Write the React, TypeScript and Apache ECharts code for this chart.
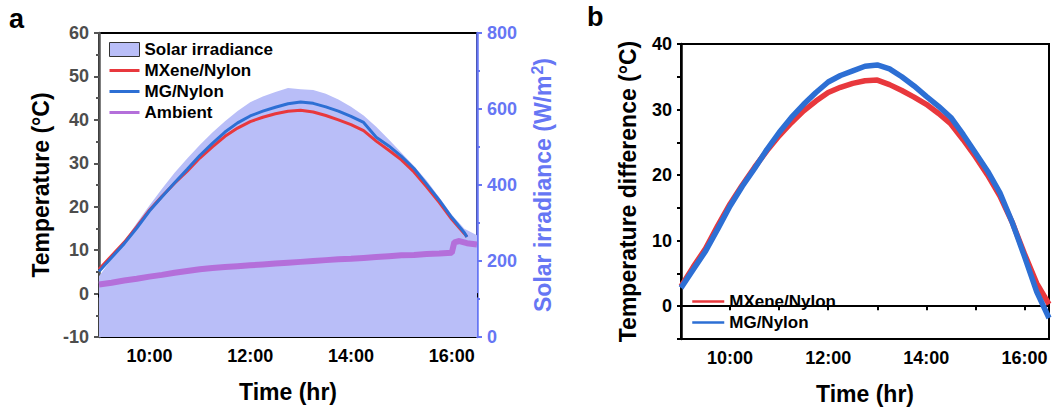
import React, { useEffect, useRef } from "react";
import * as echarts from "echarts";

// ---------- data ----------
const TIME_15 = [9, 9.25, 9.5, 9.75, 10, 10.25, 10.5, 10.75, 11, 11.25, 11.5, 11.75, 12, 12.25, 12.5, 12.75, 13, 13.25, 13.5, 13.75, 14, 14.25, 14.5, 14.75, 15, 15.25, 15.5, 15.75, 16, 16.25, 16.5];

// Solar irradiance (W/m2), panel a
const IRRADIANCE = [160, 205, 252, 300, 346, 390, 432, 470, 505, 538, 568, 595, 618, 633, 645, 655, 652, 650, 640, 625, 606, 583, 553, 520, 485, 450, 412, 368, 322, 285, 268];

// Surface temperatures (°C), panel a
const TIME_SURF = [9, 9.25, 9.5, 9.75, 10, 10.25, 10.5, 10.75, 11, 11.25, 11.5, 11.75, 12, 12.25, 12.5, 12.75, 13, 13.25, 13.5, 13.75, 14, 14.25, 14.5, 14.75, 15, 15.25, 15.5, 15.75, 16, 16.25, 16.3];
const MXENE_TEMP = [5.6, 8.7, 11.8, 15.4, 19.2, 22.4, 25.4, 28.2, 31.2, 33.8, 36.2, 38.1, 39.6, 40.6, 41.4, 42.0, 42.2, 41.8, 41.0, 40.0, 38.9, 37.5, 35.1, 33.0, 30.8, 28.0, 24.6, 21.0, 17.1, 13.8, 13.1];
const MG_TEMP = [5.1, 8.3, 11.5, 15.1, 19.0, 22.3, 25.5, 28.6, 31.8, 34.6, 37.2, 39.3, 40.9, 42.0, 42.9, 43.7, 44.1, 43.8, 43.0, 42.0, 40.8, 39.4, 36.0, 34.0, 31.6, 28.8, 25.2, 21.5, 17.5, 14.0, 13.0];

// Ambient temperature (°C), panel a
const TIME_AMB = [9, 9.25, 9.5, 9.75, 10, 10.25, 10.5, 10.75, 11, 11.25, 11.5, 11.75, 12, 12.25, 12.5, 12.75, 13, 13.25, 13.5, 13.75, 14, 14.25, 14.5, 14.75, 15, 15.25, 15.5, 15.75, 16, 16.05, 16.15, 16.3, 16.5];
const AMBIENT = [2.1, 2.5, 3.0, 3.4, 3.9, 4.3, 4.8, 5.2, 5.6, 5.9, 6.1, 6.3, 6.5, 6.7, 6.9, 7.1, 7.3, 7.5, 7.7, 7.9, 8.0, 8.2, 8.4, 8.6, 8.8, 8.9, 9.1, 9.2, 9.4, 11.8, 12.1, 11.6, 11.3];

// Temperature difference (°C), panel b
const MXENE_DIFF = [3.0, 6.0, 8.8, 12.3, 15.6, 18.5, 21.2, 23.7, 26.0, 28.0, 29.8, 31.3, 32.6, 33.4, 34.0, 34.4, 34.5, 33.8, 32.9, 31.9, 30.8, 29.4, 27.8, 25.4, 22.8, 20.0, 16.8, 12.8, 8.0, 3.5, 0.3];
const MG_DIFF = [2.8, 5.6, 8.4, 11.8, 15.3, 18.3, 21.0, 23.9, 26.5, 28.8, 30.8, 32.6, 34.2, 35.2, 35.9, 36.6, 36.8, 36.2, 35.0, 33.6, 32.0, 30.5, 28.8, 26.2, 23.4, 20.6, 17.3, 12.8, 7.6, 2.2, -1.8];

const HOUR_LABELS = ["10:00", "12:00", "14:00", "16:00"];

// ---------- styles ----------
const FONT = "'Liberation Sans', Arial, Helvetica, sans-serif";
const RED = "#E8383D";
const BLUE = "#2D6FD4";
const PURPLE = "#B46FDA";
const FILL = "#B9BEF8";
const AXIS_BLUE = "#6676F4";

const zip = (xs: number[], ys: number[]) => ys.map((y, i) => [xs[i], y]);

const hourFmt = (v: number) => {
  const s = v + ":00";
  return HOUR_LABELS.indexOf(s) >= 0 ? s : "";
};

const lineItem = (name: string, width: number) => ({
  name,
  itemStyle: { opacity: 0 },
  lineStyle: { width, opacity: 1 },
});

export default function App() {
  const ref = useRef<HTMLDivElement>(null);

  useEffect(() => {
    if (!ref.current) return;
    const chart = echarts.init(ref.current, undefined, { renderer: "svg" });

    const xAxisBase = (gridIndex: number) => ({
      type: "value",
      gridIndex,
      min: 9,
      max: 16.5,
      interval: 1,
      name: "Time (hr)",
      nameLocation: "middle",
      nameGap: 43,
      nameTextStyle: { fontSize: 23, fontWeight: "bold", color: "#000", fontFamily: FONT },
      axisLine: { show: true, lineStyle: { color: "#000", width: 2 } },
      axisTick: { show: true, inside: false, length: 4, lineStyle: { color: "#000", width: 2 } },
      axisLabel: {
        formatter: hourFmt,
        fontSize: 18,
        fontWeight: "bold",
        color: "#000",
        fontFamily: FONT,
        margin: 10,
        showMinLabel: true,
        showMaxLabel: true,
      },
      splitLine: { show: false },
    });

    const legendText = { fontSize: 17, fontWeight: "bold", color: "#000", fontFamily: FONT };

    const option: any = {
      animation: false,
      backgroundColor: "#fff",
      grid: [
        { left: 99, top: 33, width: 378, height: 304, show: true, borderColor: "#000", borderWidth: 2, backgroundColor: "transparent" },
        { left: 681, top: 44, width: 368, height: 295, show: true, borderColor: "#000", borderWidth: 2, backgroundColor: "transparent" },
      ],
      xAxis: [xAxisBase(0), xAxisBase(1)],
      yAxis: [
        {
          type: "value",
          gridIndex: 0,
          position: "left",
          min: -10,
          max: 60,
          interval: 10,
          name: "Temperature (°C)",
          nameLocation: "middle",
          nameRotate: 90,
          nameGap: 47,
          nameTextStyle: { fontSize: 23, fontWeight: "bold", color: "#000", fontFamily: FONT },
          axisLine: { show: true, lineStyle: { color: "#555", width: 2.5 } },
          axisTick: { show: true, inside: false, length: 5, lineStyle: { color: "#555", width: 2 } },
          minorTick: { show: true, splitNumber: 2, length: 3, lineStyle: { color: "#555", width: 2 } },
          axisLabel: { fontSize: 18, fontWeight: "bold", color: "#4d4d4d", fontFamily: FONT, margin: 10 },
          splitLine: { show: false },
        },
        {
          type: "value",
          gridIndex: 0,
          position: "right",
          min: 0,
          max: 800,
          interval: 200,
          name: "Solar irradiance (W/m{sup|2})",
          nameLocation: "middle",
          nameRotate: 90,
          nameGap: 52,
          nameTextStyle: {
            fontSize: 23,
            fontWeight: "bold",
            color: AXIS_BLUE,
            fontFamily: FONT,
            lineHeight: 28,
            rich: {
              sup: { fontSize: 16, fontWeight: "bold", color: AXIS_BLUE, fontFamily: FONT, verticalAlign: "top", lineHeight: 28, padding: [0, 0, 8, 1] },
            },
          },
          axisLine: { show: true, lineStyle: { color: AXIS_BLUE, width: 2.5 } },
          axisTick: { show: true, inside: false, length: 5, lineStyle: { color: AXIS_BLUE, width: 2 } },
          minorTick: { show: true, splitNumber: 2, length: 3, lineStyle: { color: AXIS_BLUE, width: 2 } },
          axisLabel: { fontSize: 18, fontWeight: "bold", color: AXIS_BLUE, fontFamily: FONT, margin: 10 },
          splitLine: { show: false },
        },
        {
          type: "value",
          gridIndex: 1,
          position: "left",
          min: -5,
          max: 40,
          interval: 5,
          name: "Temperature difference (°C)",
          nameLocation: "middle",
          nameRotate: 90,
          nameGap: 42,
          nameTextStyle: { fontSize: 23, fontWeight: "bold", color: "#000", fontFamily: FONT },
          axisLine: { show: true, lineStyle: { color: "#000", width: 2.5 } },
          axisTick: { show: true, inside: false, length: 4, lineStyle: { color: "#000", width: 2 } },
          axisLabel: {
            formatter: (v: number) => (v % 10 === 0 ? String(v) : ""),
            fontSize: 18,
            fontWeight: "bold",
            color: "#000",
            fontFamily: FONT,
            margin: 9,
          },
          splitLine: { show: false },
        },
      ],
      legend: [
        {
          orient: "vertical",
          left: 108,
          top: 41,
          padding: 0,
          itemWidth: 30,
          itemHeight: 14,
          itemGap: 4,
          textStyle: legendText,
          data: [
            { name: "Solar irradiance", icon: "rect", itemStyle: { color: FILL, borderColor: "#333", borderWidth: 1, opacity: 1 } },
            lineItem("MXene/Nylon", 3),
            lineItem("MG/Nylon", 3),
            lineItem("Ambient", 3),
          ],
        },
        {
          orient: "vertical",
          left: 691,
          top: 293,
          padding: 0,
          itemWidth: 32,
          itemHeight: 14,
          itemGap: 4,
          textStyle: legendText,
          data: [lineItem("MXene/Nylon", 2.5), lineItem("MG/Nylon", 2.5)],
        },
      ],
      graphic: [
        { type: "text", left: 9, top: 5, style: { text: "a", font: `bold 27px ${FONT}`, fill: "#000" } },
        { type: "text", left: 587, top: 3, style: { text: "b", font: `bold 27px ${FONT}`, fill: "#000" } },
      ],
      series: [
        {
          name: "Solar irradiance",
          type: "line",
          xAxisIndex: 0,
          yAxisIndex: 1,
          data: zip(TIME_15, IRRADIANCE),
          symbol: "none",
          showSymbol: false,
          lineStyle: { width: 0, color: FILL },
          itemStyle: { color: FILL },
          areaStyle: { color: FILL, opacity: 1 },
          z: 1,
        },
        {
          name: "Ambient",
          type: "line",
          xAxisIndex: 0,
          yAxisIndex: 0,
          data: zip(TIME_AMB, AMBIENT),
          symbol: "none",
          showSymbol: false,
          lineStyle: { width: 6, color: PURPLE },
          itemStyle: { color: PURPLE },
          z: 2,
        },
        {
          name: "MXene/Nylon",
          type: "line",
          xAxisIndex: 0,
          yAxisIndex: 0,
          data: zip(TIME_SURF, MXENE_TEMP),
          symbol: "none",
          showSymbol: false,
          lineStyle: { width: 3, color: RED },
          itemStyle: { color: RED },
          z: 3,
        },
        {
          name: "MG/Nylon",
          type: "line",
          xAxisIndex: 0,
          yAxisIndex: 0,
          data: zip(TIME_SURF, MG_TEMP),
          symbol: "none",
          showSymbol: false,
          lineStyle: { width: 3, color: BLUE },
          itemStyle: { color: BLUE },
          z: 4,
        },
        {
          name: "MXene/Nylon",
          type: "line",
          xAxisIndex: 1,
          yAxisIndex: 2,
          data: zip(TIME_15, MXENE_DIFF),
          symbol: "none",
          showSymbol: false,
          lineStyle: { width: 5.5, color: RED },
          itemStyle: { color: RED },
          z: 3,
        },
        {
          name: "MG/Nylon",
          type: "line",
          xAxisIndex: 1,
          yAxisIndex: 2,
          data: zip(TIME_15, MG_DIFF),
          symbol: "none",
          showSymbol: false,
          lineStyle: { width: 5.5, color: BLUE },
          itemStyle: { color: BLUE },
          z: 4,
        },
      ],
    };

    chart.setOption(option);
    return () => chart.dispose();
  }, []);

  return (
    <div
      ref={ref}
      style={{ position: "absolute", left: 0, top: 0, width: 1053, height: 410, background: "#fff" }}
    />
  );
}
